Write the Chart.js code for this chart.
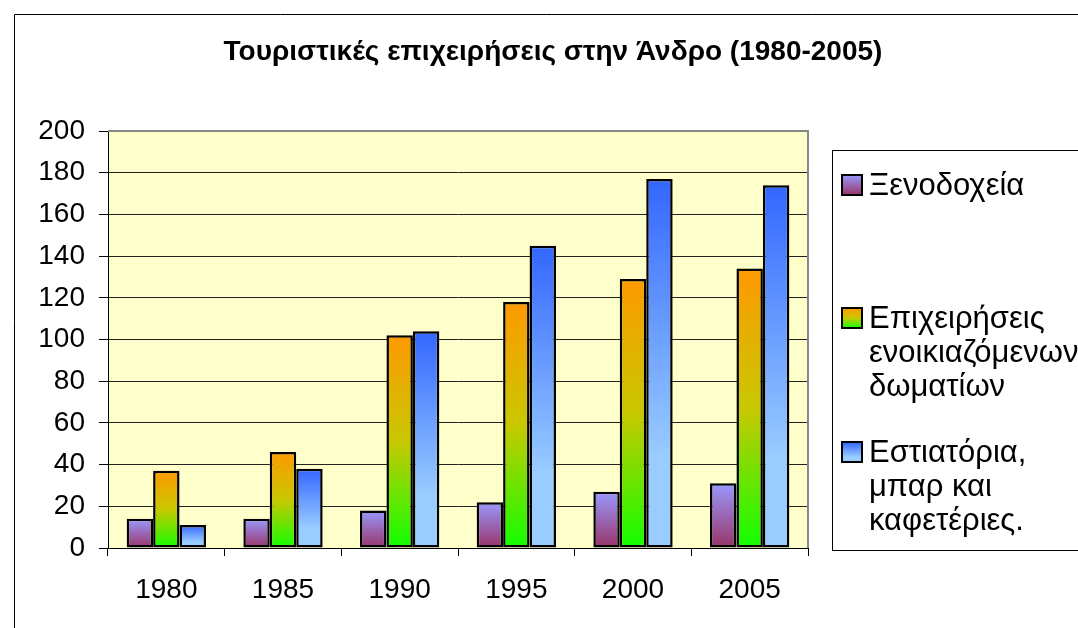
<!DOCTYPE html>
<html>
<head>
<meta charset="utf-8">
<script src="https://cdn.jsdelivr.net/npm/chart.js@4"></script>
<style>
  html, body { margin: 0; padding: 0; background: #fff; }
  #wrap { width: 1078px; height: 628px; }
</style>
</head>
<body>
<div id="wrap"><canvas id="touristChart"></canvas></div>
<script>
// Data

const years = ['1980', '1985', '1990', '1995', '2000', '2005'];
const hotels = [14, 14, 18, 22, 27, 31];
const rentedRooms = [37, 46, 102, 118, 129, 134];
const restaurants = [11, 38, 104, 145, 177, 174];
const yTicks = [0, 20, 40, 60, 80, 100, 120, 140, 160, 180, 200];

const chartTitle = 'Τουριστικές επιχειρήσεις στην Άνδρο (1980-2005)';
const legendLines = [
    ['Ξενοδοχεία'],
    ['Επιχειρήσεις', 'ενοικιαζόμενων', 'δωματίων'],
    ['Εστιατόρια,', 'μπαρ και', 'καφετέριες.']
];

// Gradient stops per series (top -> bottom)
const hotelStops = [[0, '#9999ff'], [1, '#993366']];
const roomStops = [[0, '#ff9900'], [0.5, '#c8c800'], [1, '#11ff00']];
const restStops = [[0, '#3366ff'], [0.75, '#99ccff'], [1, '#99ccff']];

const FONT = "'Liberation Sans', Arial, sans-serif";

function makeGradient(ctx, top, bottom, stops) {
    const g = ctx.createLinearGradient(0, top, 0, bottom);
    stops.forEach(s => g.addColorStop(s[0], s[1]));
    return g;
}

function barFill(stops) {
    return function(context) {
        const chart = context.chart;
        if (!chart.chartArea || context.type !== 'data') return stops[0][1];
        const y = chart.scales.y;
        const top = y.getPixelForValue(context.raw);
        const bottom = y.getPixelForValue(0);
        return makeGradient(chart.ctx, top, bottom, stops);
    };
}

// Background, plot area, frame, title and legend box

const framePlugin = {
    id: 'frame',
    beforeDraw(chart) {
        const { ctx, chartArea: a } = chart;
        ctx.save();
        ctx.fillStyle = '#ffffff';
        ctx.fillRect(0, 0, chart.width, chart.height);
        ctx.fillStyle = '#ffffcc';
        ctx.fillRect(a.left, a.top, a.right - a.left, a.bottom - a.top);
        // outer chart border
        ctx.strokeStyle = '#000';
        ctx.lineWidth = 1;
        ctx.beginPath();
        ctx.moveTo(14.5, chart.height);
        ctx.lineTo(14.5, 14.5);
        ctx.lineTo(chart.width, 14.5);
        ctx.stroke();
        ctx.restore();
    },
    beforeDatasetsDraw(chart) {
        const { ctx, chartArea: a } = chart;
        ctx.save();
        ctx.strokeStyle = '#888';
        ctx.lineWidth = 2;
        ctx.beginPath();
        ctx.moveTo(a.left, a.top);
        ctx.lineTo(a.right, a.top);
        ctx.lineTo(a.right, a.bottom);
        ctx.stroke();
        ctx.restore();
    },
    afterDraw(chart) {
        const ctx = chart.ctx;
        ctx.save();
        // title
        ctx.fillStyle = '#000';
        ctx.font = 'bold 28px ' + FONT;
        ctx.textAlign = 'center';
        ctx.textBaseline = 'middle';
        ctx.fillText(chartTitle, 553, 52);

        // legend
        const box = { x: 832.5, y: 150.5, w: 300, h: 400 };
        ctx.strokeStyle = '#000';
        ctx.lineWidth = 1;
        ctx.strokeRect(box.x, box.y, box.w, box.h);
        const firstLineY = [185, 318, 452];
        const lineH = 34;
        const allStops = [hotelStops, roomStops, restStops];
        ctx.font = '31px ' + FONT;
        ctx.textAlign = 'left';
        legendLines.forEach((lines, i) => {
            const cy = firstLineY[i];
            const sx = 842, sy = cy - 10, s = 20;
            ctx.fillStyle = makeGradient(ctx, sy, sy + s, allStops[i]);
            ctx.fillRect(sx, sy, s, s);
            ctx.lineWidth = 2;
            ctx.strokeStyle = '#000';
            ctx.strokeRect(sx, sy, s, s);
            ctx.fillStyle = '#000';
            lines.forEach((t, j) => ctx.fillText(t, 869, cy + 1 + j * lineH));
        });
        ctx.restore();
    }
};

// Bar chart

const canvas = document.getElementById('touristChart');

const barData = {
    labels: years,
    datasets: [{
        label: legendLines[0].join(' '),
        data: hotels,
        backgroundColor: barFill(hotelStops)
    }, {
        label: legendLines[1].join(' '),
        data: rentedRooms,
        backgroundColor: barFill(roomStops)
    }, {
        label: legendLines[2].join(' '),
        data: restaurants,
        backgroundColor: barFill(restStops)
    }]
};

barData.datasets.forEach(d => {
    d.borderColor = '#000';
    d.borderWidth = 2.5;
    d.borderSkipped = false;
    d.categoryPercentage = 0.68;
    d.barPercentage = 1.0;
});

const barOptions = {
    responsive: true,
    maintainAspectRatio: false,
    animation: false,
    layout: {
        padding: { left: 0, right: 270, top: 131, bottom: 0 }
    },
    scales: {
        x: {
            grid: {
                drawOnChartArea: false,
                offset: true,
                tickLength: 8,
                color: '#000'
            },
            border: { color: '#000', width: 1 },
            ticks: {
                color: '#000',
                padding: 17,
                font: { family: FONT, size: 28 }
            },
            afterFit: scale => { scale.height = 80; }
        },
        y: {
            min: 0,
            max: 200,
            afterBuildTicks: scale => {
                scale.ticks = yTicks.map(v => ({ value: v }));
            },
            grid: {
                color: ctx => (ctx.tick && ctx.tick.value === 200) ? '#888' : '#222',
                tickColor: '#000',
                tickLength: 9,
                lineWidth: 1
            },
            border: { color: '#000', width: 1 },
            ticks: {
                color: '#000',
                padding: 14,
                font: { family: FONT, size: 28 }
            },
            afterFit: scale => { scale.width = 108; }
        }
    },
    plugins: {
        legend: { display: false },
        title: { display: false },
        tooltip: { enabled: false }
    }
};

new Chart(canvas, {
    type: 'bar',
    data: barData,
    options: barOptions,
    plugins: [framePlugin]
});
</script>
</body>
</html>
